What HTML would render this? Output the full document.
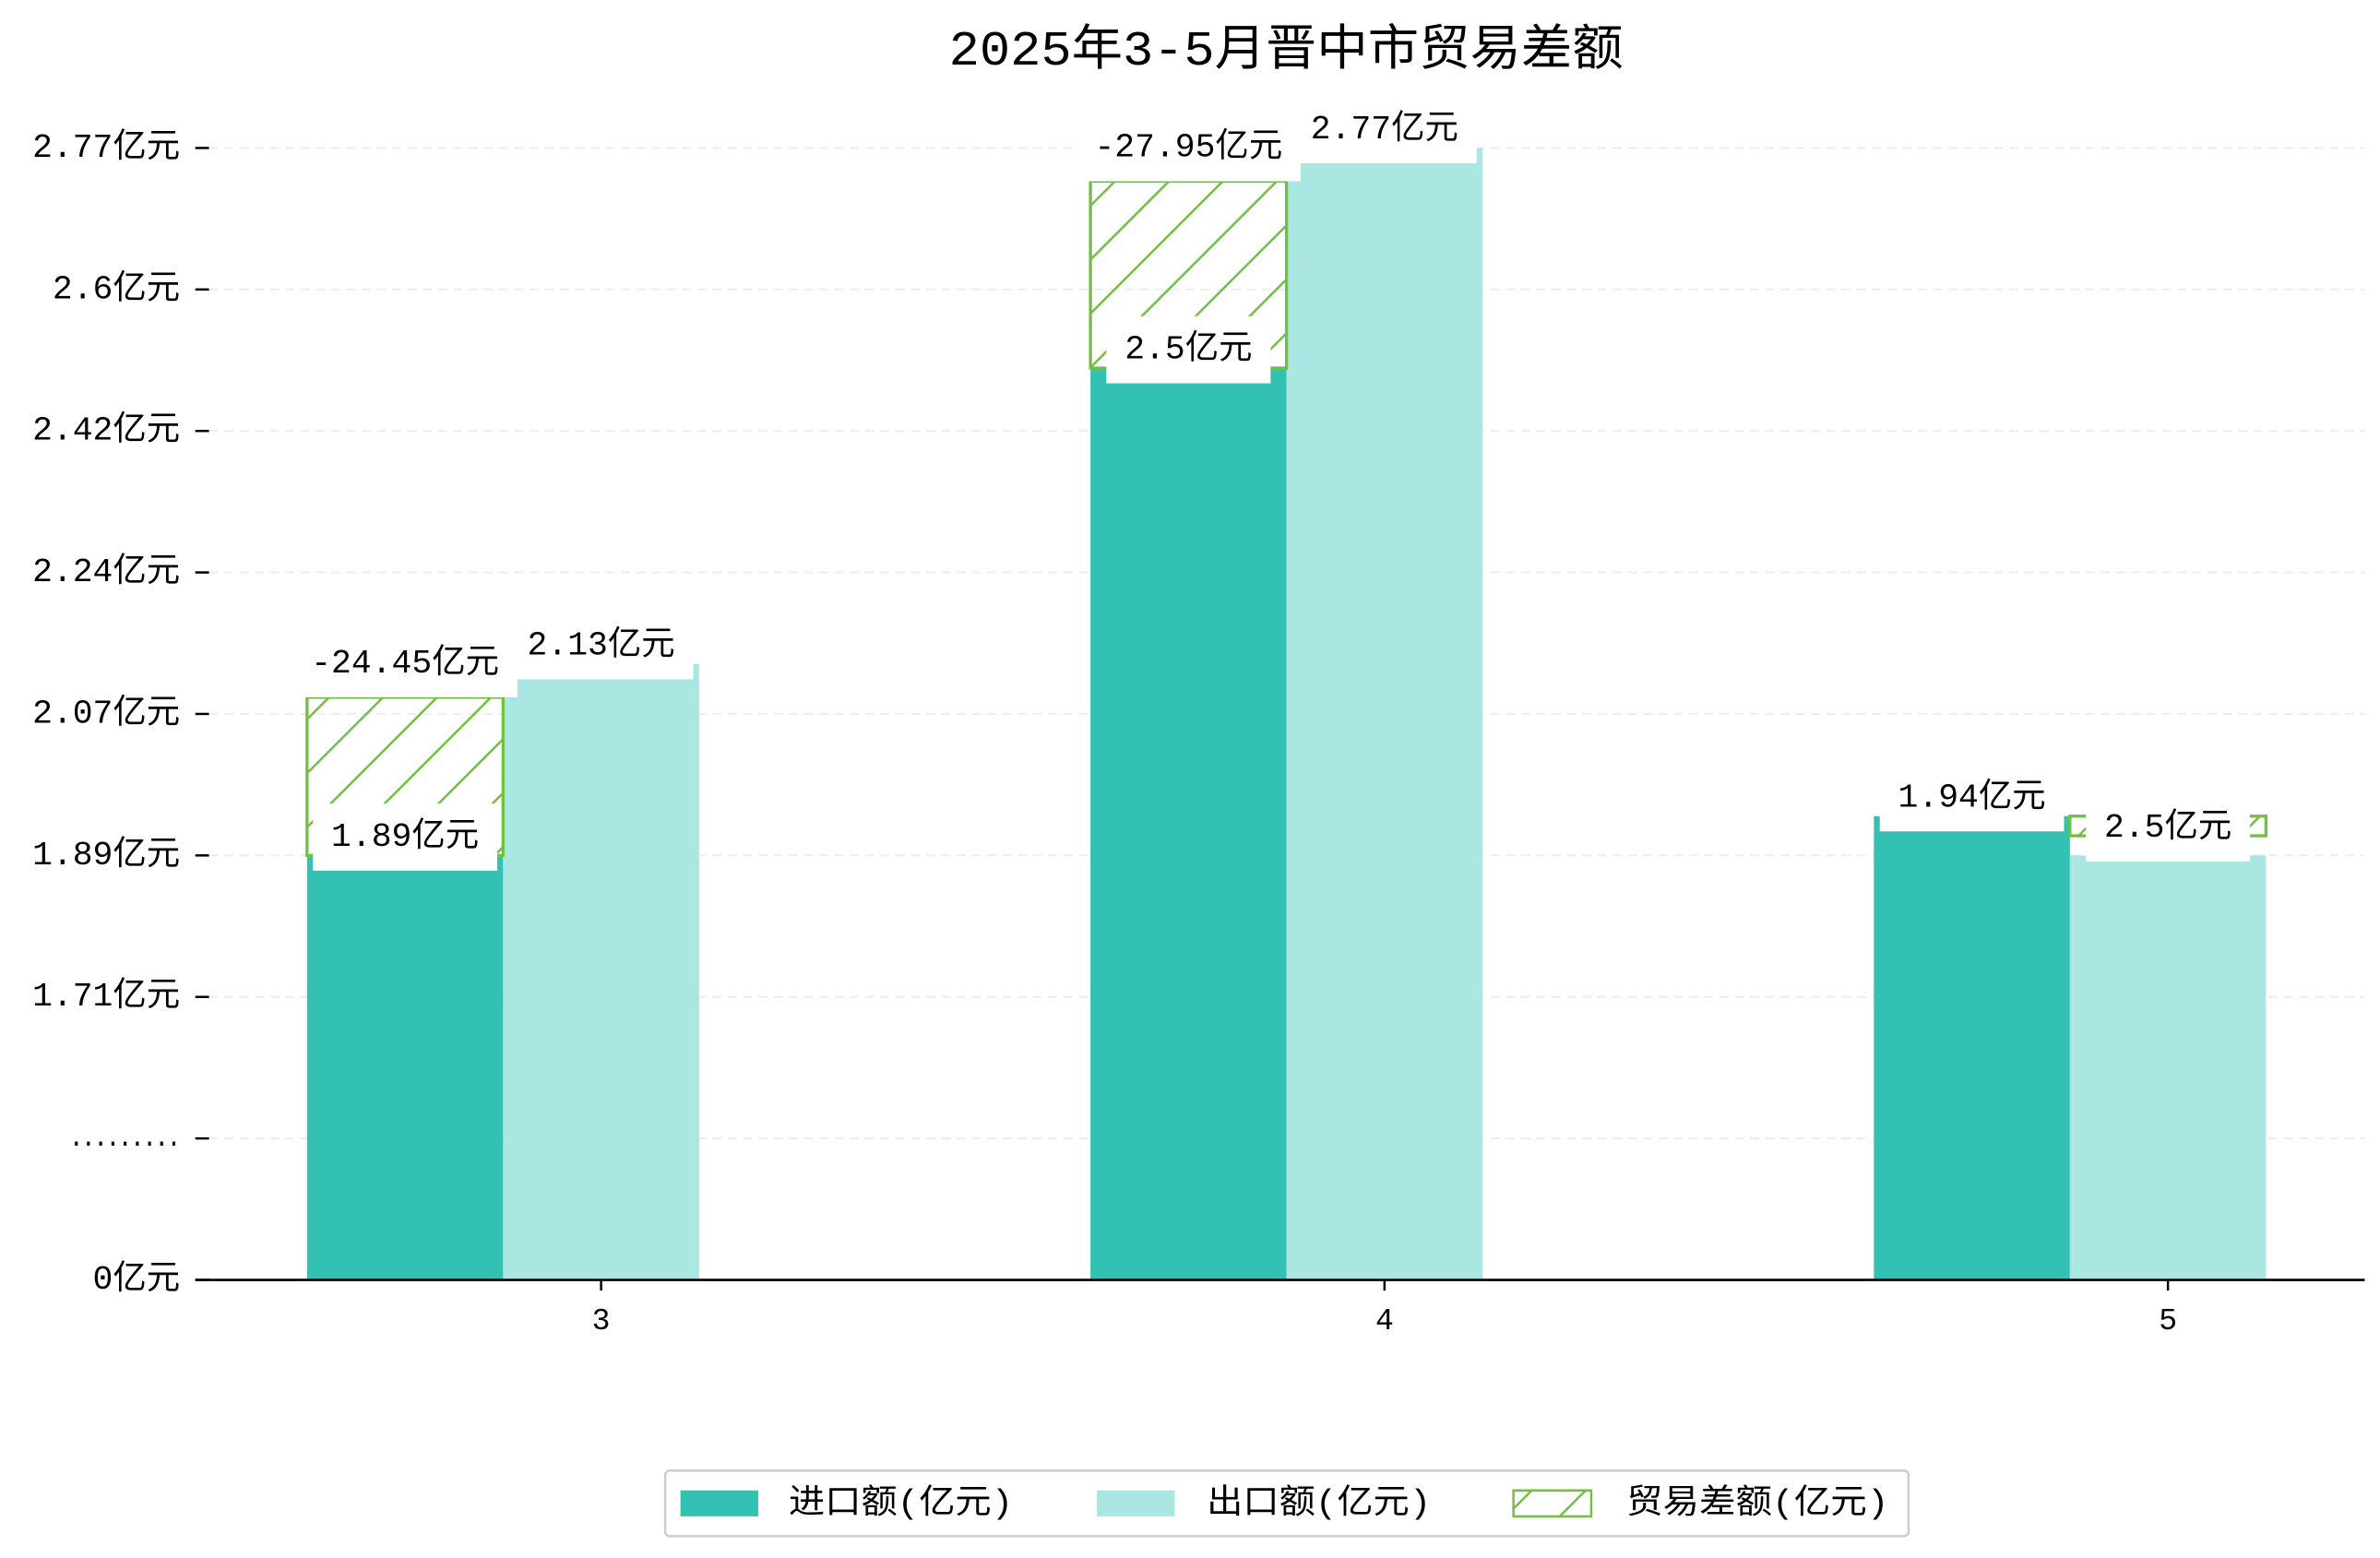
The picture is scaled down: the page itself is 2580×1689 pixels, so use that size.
<!DOCTYPE html>
<html><head><meta charset="utf-8"><style>
html,body{margin:0;padding:0;background:#fff}
svg{display:block}
text{font-family:"Liberation Mono","Noto Sans CJK SC",monospace;fill:#000}
</style></head><body>
<svg id="chart" width="2580" height="1689" viewBox="0 0 1560 1021.3" preserveAspectRatio="none" xmlns="http://www.w3.org/2000/svg">
<defs>
<pattern id="hatch" patternUnits="userSpaceOnUse" width="25" height="25" patternTransform="rotate(45)">
<line x1="0" y1="0" x2="0" y2="25" stroke="#74BE44" stroke-width="3"/>
</pattern>
</defs>
<text x="843" y="34" text-anchor="middle" dominant-baseline="central" font-size="32" textLength="442" lengthAdjust="spacingAndGlyphs">2025年3-5月晋中市贸易差额</text>
<g id="grid"></g><g id="bars"></g><g id="labels"></g><g id="axes"></g>
<g>
<rect x="436" y="964" width="815" height="43" rx="3" fill="#fff" stroke="#ccc" stroke-width="1.5"/>
<rect x="446" y="977" width="51" height="17" fill="#33C1B4"/>
<text x="517" y="986" dominant-baseline="central" font-size="22" textLength="147" lengthAdjust="spacingAndGlyphs">进口额(亿元)</text>
<rect x="719" y="977" width="51" height="17" fill="#AAE7E2"/>
<text x="791" y="986" dominant-baseline="central" font-size="22" textLength="147" lengthAdjust="spacingAndGlyphs">出口额(亿元)</text>
<rect x="992" y="977" width="51" height="17" fill="url(#hatch)" stroke="#74BE44" stroke-width="1.5"/>
<text x="1066" y="986" dominant-baseline="central" font-size="22" textLength="172" lengthAdjust="spacingAndGlyphs">贸易差额(亿元)</text>
</g>
</svg>
<script>
const categories = ['3','4','5'];
const importVals = [1.89, 2.5, 1.94];
const exportVals = [2.13, 2.77, 1.89];
const diffBase = [1.89, 2.5, 1.915];
const diffTop = [2.09, 2.73, 1.94];
const importLabels = ['1.89亿元','2.5亿元','1.94亿元'];
const exportLabels = ['2.13亿元','2.77亿元','2.5亿元'];
const diffLabels = ['-24.45亿元','-27.95亿元',''];
const tickVals = [0, null, 1.71, 1.89, 2.07, 2.24, 2.42, 2.6, 2.77];
const tickLabels = ['0亿元','.........','1.71亿元','1.89亿元','2.07亿元','2.24亿元','2.42亿元','2.6亿元','2.77亿元'];

const NS='http://www.w3.org/2000/svg';
const base=839, step=92.75, x0=394, xStep=513.5, bw=128.5;
function yIdx(i){return base-i*step;}
function yv(v){
  if(v<=0) return base;
  if(v<tickVals[2]) return yIdx(1);
  for(let i=2;i<tickVals.length-1;i++){
    if(v<=tickVals[i+1]){return yIdx(i)-(v-tickVals[i])/(tickVals[i+1]-tickVals[i])*step;}
  }
  const n=tickVals.length-1;
  return yIdx(n)-(v-tickVals[n])/(tickVals[n]-tickVals[n-1])*step;
}
function xc(i){return x0+i*xStep;}
function mk(tag,attrs,parent){const e=document.createElementNS(NS,tag);for(const k in attrs)e.setAttribute(k,attrs[k]);parent.appendChild(e);return e;}
const grid=document.getElementById('grid'),bars=document.getElementById('bars'),labels=document.getElementById('labels'),axes=document.getElementById('axes');

tickVals.forEach((v,i)=>{
  const y=yIdx(i);
  if(i>0){const g=mk('line',{x1:137,x2:1550,y1:y,y2:y,stroke:'#eeeeee','stroke-width':1.3,'stroke-dasharray':'6,4'},grid);
  
  }
  const t=mk('line',{x1:128,x2:137,y1:y,y2:y,stroke:'#000','stroke-width':1.5},axes);
  
  
  const attrs={x:118,y:y,'text-anchor':'end','dominant-baseline':'central','font-size':22};
  if(v===null){attrs.textLength=72;attrs.lengthAdjust='spacingAndGlyphs';attrs['font-size']=18;attrs['font-weight']='bold';}
  const tl=mk('text',attrs,axes);
  tl.textContent=tickLabels[i];
  
  
});
const ax=mk('line',{x1:128,x2:1550,y1:base,y2:base,stroke:'#000','stroke-width':1.6},axes);



categories.forEach((c,i)=>{
  const cx=xc(i);
  const ix=cx-1.5*bw, ex=cx-0.5*bw;
  const ib=mk('rect',{x:ix,y:yv(importVals[i]),width:bw,height:base-yv(importVals[i]),fill:'#33C1B4'},bars);
  
  
  const eb=mk('rect',{x:ex,y:yv(exportVals[i]),width:bw,height:base-yv(exportVals[i]),fill:'#AAE7E2'},bars);
  
  
  const dx = (i===2)? ex : ix;
  const db=mk('rect',{x:dx,y:yv(diffTop[i]),width:bw,height:yv(diffBase[i])-yv(diffTop[i]),fill:'url(#hatch)',stroke:'#74BE44','stroke-width':2},bars);
  
  
  const xt=mk('line',{x1:cx,x2:cx,y1:base,y2:base+7,stroke:'#000','stroke-width':1.5},axes);
  
  
  const xl=mk('text',{x:cx,y:base+27,'text-anchor':'middle','dominant-baseline':'central','font-size':20},axes);
  xl.textContent=c;
  
  
});

function label(txt,x,y,name){
  if(!txt) return;
  const g=mk('g',{},labels);
  
  
  const r=mk('rect',{fill:'#fff'},g);
  const t=mk('text',{x:x,y:y,'text-anchor':'middle','dominant-baseline':'central','font-size':22},g);
  t.textContent=txt;
  const b=t.getBBox();
  r.setAttribute('x',b.x-12);r.setAttribute('width',b.width+24);
  r.setAttribute('y',y-22);r.setAttribute('height',44);
}
categories.forEach((c,i)=>{
  const cx=xc(i);
  label(diffLabels[i],cx-bw,yv(diffTop[i])-22,'balance-label-'+c);
  label(importLabels[i],cx-bw,yv(importVals[i])-12,'import-label-'+c);
  label(exportLabels[i],cx,yv(exportVals[i])-(i===2?18:12),'export-label-'+c);
});
</script>
</body></html>
